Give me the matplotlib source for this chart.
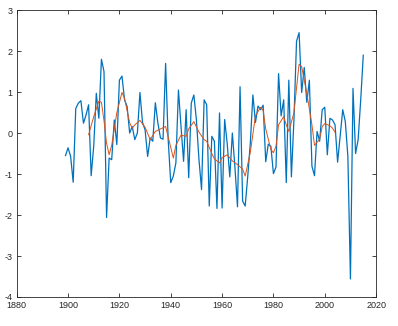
import numpy as np
import matplotlib
matplotlib.use('Agg')
import matplotlib.pyplot as plt

# yearly series (blue)
years = list(range(1899, 2016))
values = [
    -0.55, -0.36, -0.57, -1.20, 0.60, 0.73, 0.79, 0.24, 0.44, 0.69,   # 1899-1908
    -1.04, -0.32, 0.97, 0.36, 1.80, 1.50, -2.06, -0.61, -0.65, 0.32,  # 1909-1918
    -0.28, 1.29, 1.39, 0.81, 0.65, 0.00, 0.16, -0.16, 0.00, 0.99,     # 1919-1928
    0.26, 0.08, -0.57, -0.12, -0.20, 0.74, 0.24, -0.12, -0.15, 1.70,  # 1929-1938
    -0.16, -1.21, -1.05, -0.73, 1.05, 0.16, -0.69, 0.57, -1.09, 0.73, # 1939-1948
    0.93, 0.32, -0.65, -1.38, 0.81, 0.69, -1.78, -0.08, -0.20, -1.84, # 1949-1958
    0.49, -1.83, 0.33, -0.26, -1.07, 0.00, -0.83, -1.80, 1.13, -1.66, # 1959-1968
    -1.78, -1.05, -0.24, 0.93, 0.26, 0.66, 0.57, 0.68, -0.70, -0.27,  # 1969-1978
    -0.32, -0.99, -0.83, 1.45, 0.42, 0.81, -1.21, 1.29, -1.07, 0.34,  # 1979-1988
    2.24, 2.45, 0.99, 1.60, 0.75, 1.29, -0.81, -1.04, 0.04, -0.20,    # 1989-1998
    0.57, 0.63, -0.53, 0.36, 0.32, 0.20, -0.71, -0.07, 0.57, 0.28,    # 1999-2008
    -0.57, -3.56, 1.09, -0.50, -0.16, 0.81, 1.90,                     # 2009-2015
]

# smoothed series (red)
smooth_years = [1908, 1910, 1912, 1913, 1914, 1915, 1916, 1917, 1919, 1921,
                1922, 1924, 1925, 1926, 1928, 1930, 1932, 1934, 1936, 1938,
                1940, 1941, 1942, 1944, 1946, 1947, 1949, 1951, 1953, 1954,
                1956, 1957, 1959, 1960, 1962, 1964, 1966, 1968, 1969, 1971,
                1973, 1975, 1976, 1977, 1979, 1980, 1981, 1982, 1984, 1985,
                1986, 1988, 1989, 1990, 1991, 1993, 1995, 1996, 1998, 1999,
                2000, 2002, 2003, 2004]
smooth_values = [-0.04, 0.40, 0.78, 0.75, 0.30, -0.25, -0.53, -0.30, 0.50, 0.99,
                 0.85, 0.25, 0.12, 0.20, 0.31, 0.14, -0.16, 0.04, 0.10, 0.16,
                 -0.35, -0.61, -0.30, -0.05, -0.08, 0.10, 0.28, 0.02, -0.16, -0.20,
                 -0.50, -0.63, -0.73, -0.60, -0.53, -0.68, -0.77, -0.88, -1.05, -0.47,
                 0.42, 0.63, 0.55, 0.10, -0.40, -0.48, -0.32, 0.20, 0.40, 0.20,
                 0.04, 0.50, 1.10, 1.68, 1.62, 0.97, 0.20, -0.30, -0.15, 0.16,
                 0.23, 0.18, 0.12, 0.02]

x_ticks = [1880, 1900, 1920, 1940, 1960, 1980, 2000, 2020]
y_ticks = [-4, -3, -2, -1, 0, 1, 2, 3]

plt.rcParams['font.family'] = ['Liberation Sans', 'DejaVu Sans']
plt.rcParams['axes.unicode_minus'] = False

fig = plt.figure(figsize=(3.98, 3.26), dpi=100)
ax = fig.add_axes([0.042, 0.089, 0.903, 0.880])

ax.plot(years, values, color='#0072BD', lw=0.9)
ax.plot(smooth_years, smooth_values, color='#D95319', lw=0.7)

ax.set_xlim(1880, 2020)
ax.set_ylim(-4, 3)
ax.set_xticks(x_ticks)
ax.set_yticks(y_ticks)
ax.tick_params(direction='in', length=3, width=0.6, labelsize=6.5,
               colors='#262626', top=True, right=True, pad=3)
for s in ax.spines.values():
    s.set_color('#262626')
    s.set_linewidth(0.6)

fig.savefig('out.png', dpi=100)
